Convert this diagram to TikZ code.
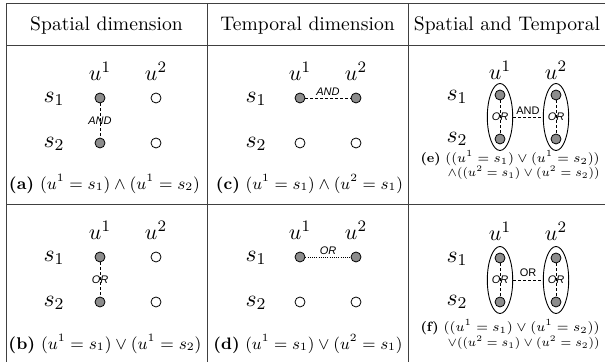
\RequirePackage{fix-cm}
\documentclass[tikz,border=0pt]{standalone}
\usepackage{graphicx}
\usepackage{fontspec}
\usetikzlibrary{shapes.geometric}
\newfontfamily\sff{Liberation Sans}
\newcommand{\fitw}[2]{\resizebox{#1}{!}{#2}}
\tikzset{
 gridline/.style={draw=black!75, line width=0.5pt},
 dotnode/.style={circle, draw=black, line width=0.4pt, minimum size=5pt, inner sep=0pt},
 fullnode/.style={dotnode, fill=black!45},
 emptynode/.style={dotnode, fill=white},
 lbl/.style={inner sep=0pt, font=\fontsize{10.95}{13}\selectfont},
 slbl/.style={inner sep=0pt, font=\fontsize{11.8}{14}\selectfont},
 hdr/.style={inner sep=0pt, font=\fontsize{9.8}{11}\selectfont},
 captext/.style={inner sep=0pt, font=\fontsize{9}{10}\selectfont},
 smallcap/.style={inner sep=0pt, font=\fontsize{7.5}{8}\selectfont},
 logic/.style={inner sep=0.5pt, font=\sff\fontsize{5.5}{6}\selectfont},
 itlogic/.style={inner sep=0.5pt, font=\sff\itshape\fontsize{5.5}{6}\selectfont},
 dashconn/.style={draw, line width=0.4pt, dash pattern=on 1.5pt off 1pt},
 dotconn/.style={draw, line width=0.4pt, dash pattern=on 0.5pt off 0.6pt},
 ovalgroup/.style={ellipse, draw, line width=0.45pt, minimum width=12.7pt, minimum height=33.5pt, inner sep=0pt},
}
\begin{document}
\begin{tikzpicture}[x=0.5pt,y=-0.5pt]
\useasboundingbox (0,0) rectangle (605,362);
% table
\draw[gridline] (6,4) -- (605,4);
\draw[gridline] (6,46) -- (605,46);
\draw[gridline] (6,205) -- (605,205);
\draw[gridline] (6,4) -- (6,362);
\draw[gridline] (207,4) -- (207,362);
\draw[gridline] (408,4) -- (408,362);
% headers
\node[hdr] (h1) at (106.5,26) {Spatial dimension};
\node[hdr] (h2) at (307.5,26) {Temporal dimension};
\node[hdr] (h3) at (507,26) {Spatial and Temporal};

% (a)
\node[lbl] (au1) at (100,71) {$u^1$};
\node[lbl] (au2) at (156,71) {$u^2$};
\node[slbl] (as1) at (54,99) {$s_1$};
\node[slbl] (as2) at (54,144) {$s_2$};
\node[fullnode] (a11) at (100,98) {};
\node[fullnode] (a21) at (100,143) {};
\node[emptynode] (a12) at (156,98) {};
\node[emptynode] (a22) at (156,143) {};
\draw[dashconn] (a11) -- node[itlogic] (aand) {AND} (a21);
\node[captext] (acap) at (104.5,184) {\fitw{95.5pt}{\textbf{(a)} $(u^1=s_1)\wedge(u^1=s_2)$}};

% (b)
\node[lbl] (bu1) at (100,230) {$u^1$};
\node[lbl] (bu2) at (156,230) {$u^2$};
\node[slbl] (bs1) at (54,258) {$s_1$};
\node[slbl] (bs2) at (54,303) {$s_2$};
\node[fullnode] (b11) at (100,257) {};
\node[fullnode] (b21) at (100,302) {};
\node[emptynode] (b12) at (156,257) {};
\node[emptynode] (b22) at (156,302) {};
\draw[dashconn] (b11) -- node[itlogic] (bor) {OR} (b21);
\node[captext] (bcap) at (105,344) {\fitw{96.5pt}{\textbf{(b)} $(u^1=s_1)\vee(u^1=s_2)$}};

% (c)
\node[lbl] (cu1) at (300,71) {$u^1$};
\node[lbl] (cu2) at (356,71) {$u^2$};
\node[slbl] (cs1) at (256,99) {$s_1$};
\node[slbl] (cs2) at (256,144) {$s_2$};
\node[fullnode] (c11) at (300,98) {};
\node[fullnode] (c12) at (356,98) {};
\node[emptynode] (c21) at (300,143) {};
\node[emptynode] (c22) at (356,143) {};
\draw[dashconn] (c11) -- node[itlogic, above=0.3pt] (cand) {AND} (c12);
\node[captext] (ccap) at (309.5,184) {\fitw{93.5pt}{\textbf{(c)} $(u^1=s_1)\wedge(u^2=s_1)$}};

% (d)
\node[lbl] (du1) at (300,230) {$u^1$};
\node[lbl] (du2) at (356,230) {$u^2$};
\node[slbl] (ds1) at (256,258) {$s_1$};
\node[slbl] (ds2) at (256,303) {$s_2$};
\node[fullnode] (d11) at (300,257) {};
\node[fullnode] (d12) at (356,257) {};
\node[emptynode] (d21) at (300,302) {};
\node[emptynode] (d22) at (356,302) {};
\draw[dotconn] (d11) -- node[itlogic, above=0.3pt] (dor) {OR} (d12);
\node[captext] (dcap) at (308,344) {\fitw{94.5pt}{\textbf{(d)} $(u^1=s_1)\vee(u^2=s_1)$}};

% (e)
\node[lbl] (eu1) at (500,70) {$u^1$};
\node[lbl] (eu2) at (556,70) {$u^2$};
\node[slbl] (es1) at (457,97) {$s_1$};
\node[slbl] (es2) at (457,139) {$s_2$};
\node[fullnode] (e11) at (500,95) {};
\node[fullnode] (e21) at (500,139) {};
\node[fullnode] (e12) at (556,95) {};
\node[fullnode] (e22) at (556,139) {};
\node[ovalgroup] (eg1) at (500,117) {};
\node[ovalgroup] (eg2) at (556,117) {};
\draw[dashconn] (e11) -- node[itlogic] (eor1) {OR} (e21);
\draw[dashconn] (e12) -- node[itlogic] (eor2) {OR} (e22);
\draw[dashconn] (eg1) -- node[logic, above=0.3pt] (eand) {AND} (eg2);
\node[smallcap, anchor=east] (ecap1) at (600,158) {\fitw{89.5pt}{\textbf{(e)} $((u^1=s_1)\vee(u^1=s_2))$}};
\node[smallcap, anchor=east] (ecap2) at (600,173) {\fitw{76pt}{$\wedge((u^2=s_1)\vee(u^2=s_2))$}};

% (f)
\node[lbl] (fu1) at (500,231) {$u^1$};
\node[lbl] (fu2) at (556,231) {$u^2$};
\node[slbl] (fs1) at (457,259) {$s_1$};
\node[slbl] (fs2) at (457,302) {$s_2$};
\node[fullnode] (f11) at (500,258) {};
\node[fullnode] (f21) at (500,302) {};
\node[fullnode] (f12) at (556,258) {};
\node[fullnode] (f22) at (556,302) {};
\node[ovalgroup] (fg1) at (500,280) {};
\node[ovalgroup] (fg2) at (556,280) {};
\draw[dashconn] (f11) -- node[itlogic] (for1) {OR} (f21);
\draw[dashconn] (f12) -- node[itlogic] (for2) {OR} (f22);
\draw[dashconn] (fg1) -- node[logic, above=1pt] (forr) {OR} (fg2);
\node[smallcap, anchor=east] (fcap1) at (600,327) {\fitw{89.5pt}{\textbf{(f)} $((u^1=s_1)\vee(u^1=s_2))$}};
\node[smallcap, anchor=east] (fcap2) at (600,343) {\fitw{76pt}{$\vee((u^2=s_1)\vee(u^2=s_2))$}};
\end{tikzpicture}
\end{document}
